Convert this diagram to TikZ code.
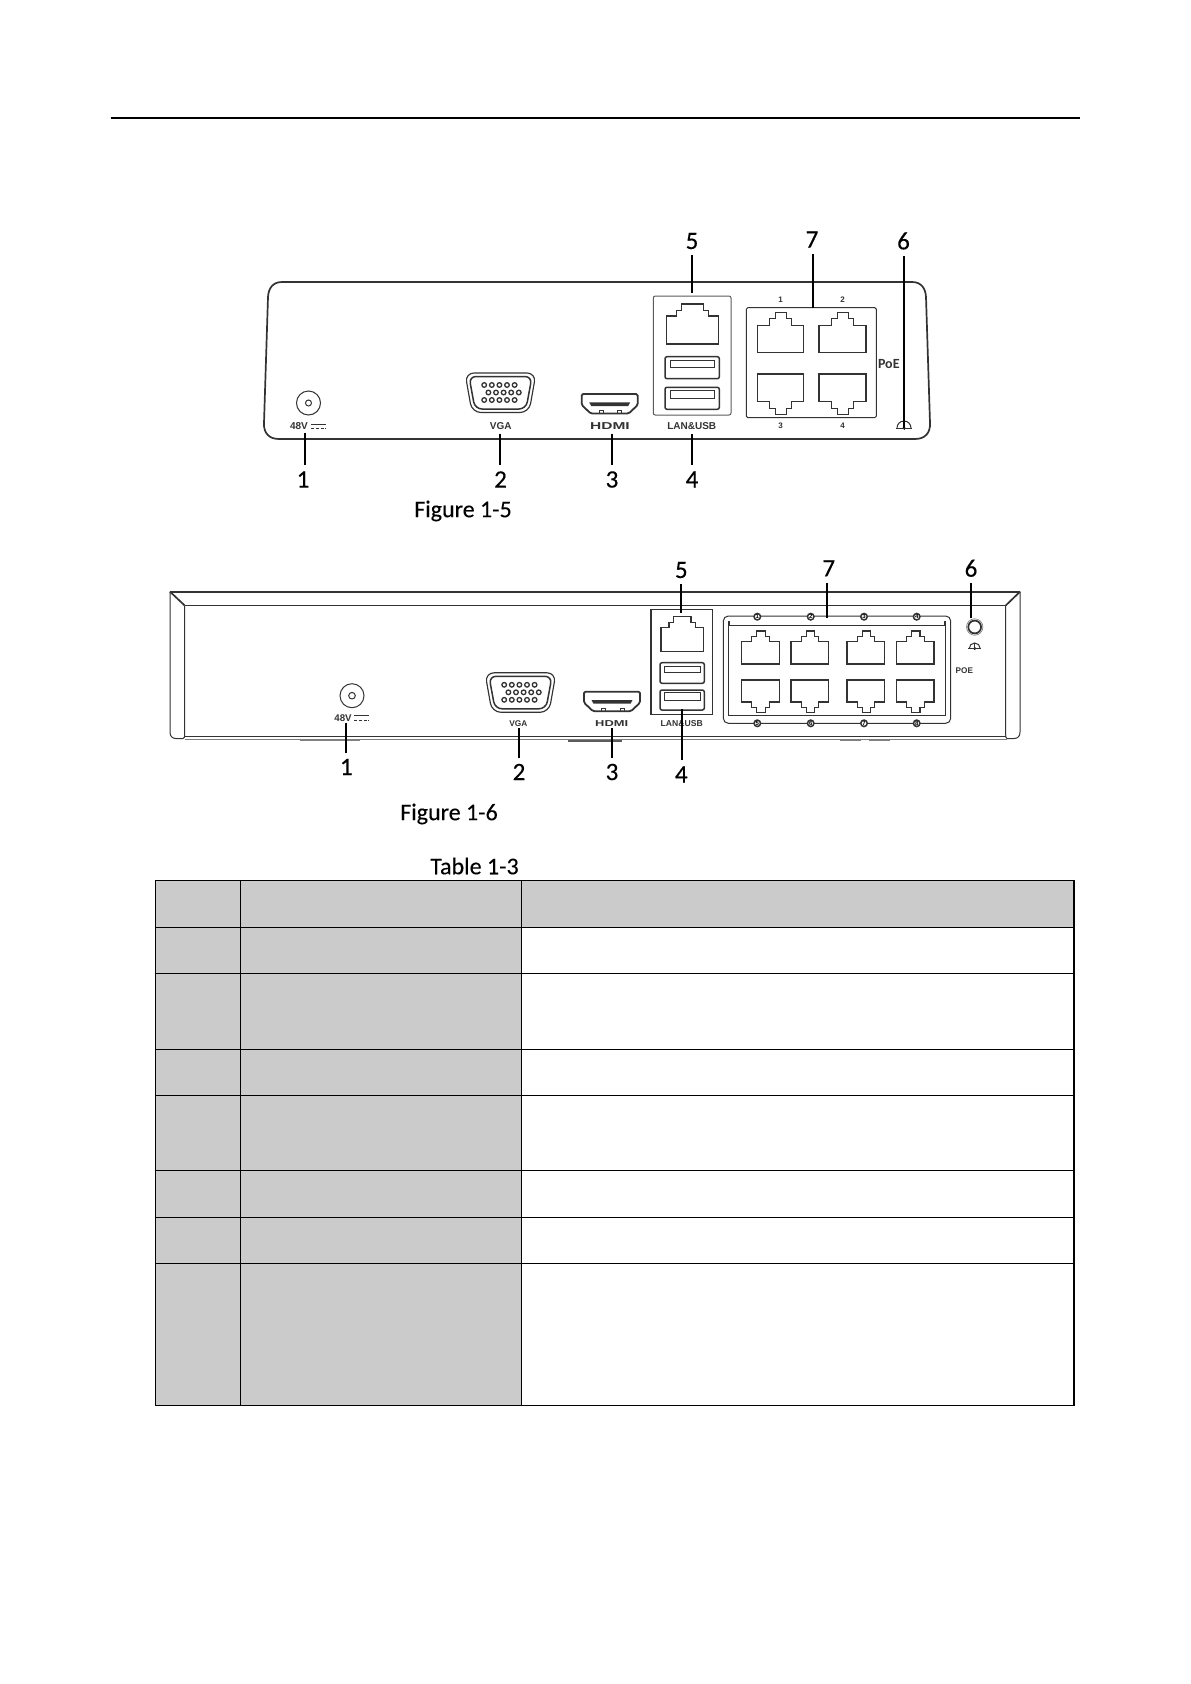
\documentclass[tikz,border=0pt]{standalone}
\usepackage{fontspec}
\setmainfont{Carlito}
\newfontfamily\labfont{Liberation Sans}
\newfontfamily\numfont{Carlito}[FakeBold=0.35]
\newfontfamily\capfont{Carlito}[FakeBold=0.15]
\definecolor{ink}{HTML}{333333}
\definecolor{cellgray}{HTML}{CBCBCB}
\tikzset{
  numlabel/.style={font=\numfont\fontsize{25}{26}\selectfont, inner xsep=2pt, inner ysep=6pt, text=black},
  captiontext/.style={font=\capfont\fontsize{24}{26}\selectfont, inner sep=0pt, text=black},
  tinylab/.style={font=\labfont\bfseries\fontsize{#1}{#1}\selectfont, inner sep=0pt, text=ink},
  leader/.style={draw=black, line width=1.7pt},
  body/.style={draw=ink, line width=1.7pt},
  portline/.style={draw=ink, line width=1.15pt, line join=miter},
  thinline/.style={draw=ink, line width=1pt},
  grid/.style={draw=black, line width=1.3pt},
}
% RJ45 outline: origin at the tab end; #4 signed height
\newcommand{\rjport}[4]{\draw[portline, shift={(#1,#2)}, x=#3pt, y=#4pt]
  (0,.32)--(.27,.32)--(.27,.157)--(.4,.157)--(.4,0)--(.63,0)--(.63,.157)--(.74,.157)--(.74,.32)--(1,.32)--(1,1)--(0,1)--cycle;}
\newcommand{\rjlan}[4]{\draw[portline, line width=1.3pt, shift={(#1,#2)}, x=#3pt, y=#4pt]
  (0,.3)--(.19,.3)--(.19,.17)--(.29,.17)--(.29,0)--(.71,0)--(.71,.17)--(.81,.17)--(.81,.3)--(1,.3)--(1,1)--(0,1)--cycle;}
\newcommand{\usbport}[8]{\draw[portline, line width=1.5pt, rounded corners=2pt] (#1,#2) rectangle (#3,#4);
  \draw[thinline] (#5,#6) rectangle (#7,#8);}
\newcommand{\vgaport}[2]{\begin{scope}[shift={(#1,#2)}]
  \draw[portline, rounded corners=9pt] (0,0)--(71,0)--(64,39.5)--(7,39.5)--cycle;
  \draw[portline, line width=1.5pt, rounded corners=7pt] (4,3.5)--(67,3.5)--(61,36)--(10,36)--cycle;
  \foreach \k in {0,...,4}{
    \draw[thinline, line width=1.3pt] ({19.2+7.6*\k},12) circle (2.3);
    \draw[thinline, line width=1.3pt] ({23.4+7.6*\k},19.5) circle (2.3);
    \draw[thinline, line width=1.3pt] ({19.2+7.6*\k},27) circle (2.3);}
  \end{scope}}
\newcommand{\hdmiport}[2]{\begin{scope}[shift={(#1,#2)}]
  \draw[portline, line width=1.8pt, rounded corners=1.5pt] (0,0)--(56,0)--(56,11)--(47,19.5)--(9,19.5)--(0,11)--cycle;
  \fill[ink] (7.5,8.3)--(48.5,8.3)--(46.5,12)--(9.5,12)--cycle;
  \draw[thinline, line width=.8pt] (17.5,19.5) rectangle (21.5,16.5) (36,19.5) rectangle (40,16.5);
  \end{scope}}
\newcommand{\groundsym}[3]{\draw[thinline] (#1-#3,#2) arc[start angle=180, end angle=360, radius=#3];
  \draw[thinline] (#1-#3-1,#2)--(#1+#3+1,#2);
  \draw[thinline] (#1,#2-#3)--(#1,#2+1.5);
  \fill[ink] (#1,#2) circle (1.6);}
\newcommand{\dcsym}[4]{\draw[thinline, line width=.8pt] (#1,#3)--(#2,#3);
  \draw[thinline, line width=.8pt, dash pattern=on 3.4pt off 1.4pt] (#1,#4)--(#2,#4);}
\begin{document}
\begin{tikzpicture}[x=1pt,y=-1pt]
\useasboundingbox (0,0) rectangle (1191,1684);
\fill[white] (0,0) rectangle (1191,1684);

% header rule
\draw[black, line width=2pt] (110.6,118) -- (1080,118);

%% ---------- Figure 1-5 ----------
\draw[body] (282,282) -- (912,282) .. controls (921,282) and (925.5,288) .. (926,297)
  -- (930,423) .. controls (930.5,433) and (925,439) .. (915,439)
  -- (279,439) .. controls (269,439) and (263.5,433) .. (264,423)
  -- (268,297) .. controls (268.5,288) and (273,282) .. (282,282) -- cycle;

% power
\coordinate (jackA) at (308.5,403);
\draw[thinline] (jackA) circle (12);
\draw[thinline] (jackA) circle (3);
\node[tinylab=10] (v48a) at (299,426.5) {48V};
\dcsym{311}{326}{424.5}{428.5}

% VGA, HDMI
\vgaport{465}{373}
\node[tinylab=10] (vgaA) at (500.7,426.5) {VGA};
\hdmiport{581.7}{394}
\node[tinylab=10] (hdmiA) at (610,426.5) {\scalebox{1.55}[1]{HDMI}};

% LAN & USB block
\draw[thinline, draw=ink!80, rounded corners=2pt] (653.3,296) rectangle (731,415);
\rjlan{666.7}{304}{52}{-40}
\usbport{665}{356.7}{719.3}{378.7}{670.7}{360}{714}{367.3}
\usbport{665}{387.3}{719.3}{409.3}{670.7}{390.7}{714}{398.3}
\node[tinylab=10] (lanA) at (691.7,426) {LAN\&USB};

% PoE block
\draw[thinline, rounded corners=1.5pt] (746.3,307.7) rectangle (876.3,417.7);
\rjport{757.3}{312.3}{46.4}{-40.4}
\rjport{819}{312.3}{47}{-40.4}
\rjport{757.3}{414.7}{46.4}{40.7}
\rjport{819}{414.7}{47}{40.7}
\node[tinylab=8] (pa1) at (780.7,300) {1};
\node[tinylab=8] (pa2) at (842.7,300) {2};
\node[tinylab=8] (pa3) at (780.7,426) {3};
\node[tinylab=8] (pa4) at (842.7,426) {4};
\node[font=\fontsize{14}{14}\selectfont\bfseries, inner sep=0pt, text=ink] (poeA) at (888.8,364) {PoE};
\groundsym{904}{428}{7}

% leaders and numbers
\node[numlabel] (a1) at (303,479.5) {1};
\node[numlabel] (a2) at (500.5,479.5) {2};
\node[numlabel] (a3) at (612,479.5) {3};
\node[numlabel] (a4) at (692,479.5) {4};
\node[numlabel] (a5) at (692,241) {5};
\node[numlabel] (a7) at (812,239.5) {7};
\node[numlabel] (a6) at (903.5,241) {6};
\coordinate (ta1) at (305,432.5);
\coordinate (ta2) at (500,433.5);
\coordinate (ta3) at (612,433.5);
\coordinate (ta4) at (692,434);
\coordinate (ta5) at (692.3,293);
\coordinate (ta7) at (812.7,307.7);
\coordinate (ta6) at (904,428);
\draw[leader] (ta1) -- (ta1 |- a1.north);
\draw[leader] (ta2) -- (ta2 |- a2.north);
\draw[leader] (ta3) -- (ta3 |- a3.north);
\draw[leader] (ta4) -- (ta4 |- a4.north);
\draw[leader] (ta5) -- (ta5 |- a5.south);
\draw[leader] (ta7) -- (ta7 |- a7.south);
\draw[leader] (ta6) -- (ta6 |- a6.south);

\node[captiontext] (figA) at (463,511) {Figure 1-5};

%% ---------- Figure 1-6 ----------
\draw[body] (1005.7,605.5) -- (184.7,605.5);
\draw[body] (170,591.7) -- (1020,591.7);
\draw[body] (170,591.7) -- (184.7,605.5);
\draw[body] (1020,591.7) -- (1005.7,605.5);
\draw[thinline] (170,591.7) -- (170,732) .. controls (170,736) and (172,738.5) .. (176,738.5) -- (183,738.5) .. controls (184.5,738) and (184.7,737) .. (184.7,735) -- (184.7,605.5);
\draw[thinline] (1020,591.7) -- (1020,732) .. controls (1020,736) and (1018,738.5) .. (1014,738.5) -- (1007,738.5) .. controls (1006,738) and (1005.7,737) .. (1005.7,735) -- (1005.7,605.5);
\draw[thinline] (184.7,736) -- (1005.7,736);
\draw[thinline, draw=gray] (184.7,739) -- (1007,739);
\draw[draw=gray, line width=1pt] (300,740) -- (360,740);
\draw[draw=ink!80, line width=1.1pt] (568,741) -- (622,741);
\draw[draw=gray, line width=1pt] (840,740) -- (860.7,740) (869,740) -- (890,740);

% power
\coordinate (jackB) at (352,695.7);
\draw[thinline] (jackB) circle (12);
\draw[thinline] (jackB) circle (3.3);
\node[tinylab=9.7] (v48b) at (343,718) {48V};
\dcsym{354}{369.3}{715.7}{720}

% VGA, HDMI
\vgaport{485}{672.8}
\node[tinylab=8.3] (vgaB) at (518.3,723.7) {VGA};
\hdmiport{584}{691.7}
\node[tinylab=8.6] (hdmiB) at (611.7,723.7) {\scalebox{1.5}[1]{HDMI}};

% LAN & USB block
\draw[thinline, line width=1.2pt] (651,609.3) rectangle (712.7,714.3);
\rjlan{661}{616.7}{42.3}{-35}
\usbport{660}{662.7}{704.3}{683.3}{664}{666}{700}{672.7}
\usbport{660}{690}{704.3}{710}{664}{692.7}{700}{700}
\node[tinylab=8.6] (lanB) at (681.7,723.7) {LAN\&USB};

% PoE frame
\draw[thinline, rounded corners=5pt] (723.3,616) rectangle (950.7,723.3);
\draw[thinline] (729.5,621) -- (729.5,625.5) -- (944.5,625.5) -- (944.5,621);
\draw[thinline] (728.3,621) -- (728.3,715.7) -- (945.7,715.7) -- (945.7,621);
\foreach \px in {741.7,791,847,896.3}{
  \rjport{\px}{631}{37.7}{-33}
  \rjport{\px}{712.3}{37.7}{32.3}
}
\foreach \nm/\cx/\cy/\tx in {c1/757.3/616.7/1,c2/810.7/616.7/2,c3/864/616.7/3,c4/916.7/616.7/4,
                             c5/757.3/723.3/5,c6/810.7/723.3/6,c7/864/723.3/7,c8/916.7/723.3/8}{
  \node[draw=ink, line width=1.5pt, fill=white, circle, minimum size=6.5pt, inner sep=0pt,
        font=\labfont\bfseries\fontsize{6}{6}\selectfont, text=black] (\nm) at (\cx,\cy) {\tx};
}
\node[tinylab=8.2] (poeB) at (964.3,670.7) {POE};
\coordinate (hole) at (974.7,627);
\draw[ink, line width=1.7pt] (hole) circle (6.4);
\draw[thinline, line width=.7pt, draw=gray] (hole) circle (8.2);
\groundsym{974.7}{648.5}{5.5}

% leaders and numbers
\node[numlabel] (b1) at (346.3,767) {1};
\node[numlabel] (b2) at (519,772) {2};
\node[numlabel] (b3) at (612,772) {3};
\node[numlabel] (b4) at (681.3,774.5) {4};
\node[numlabel] (b5) at (681.3,570) {5};
\node[numlabel] (b7) at (828.7,568.3) {7};
\node[numlabel] (b6) at (971,568.3) {6};
\coordinate (tb1) at (346.3,722.7);
\coordinate (tb2) at (519,728.3);
\coordinate (tb3) at (612.3,728.3);
\coordinate (tb4) at (681.7,709.3);
\coordinate (tb5) at (680.7,612.7);
\coordinate (tb7) at (826.7,618);
\coordinate (tb6) at (971,618);
\draw[leader] (tb1) -- (tb1 |- b1.north);
\draw[leader] (tb2) -- (tb2 |- b2.north);
\draw[leader] (tb3) -- (tb3 |- b3.north);
\draw[leader] (tb4) -- (tb4 |- b4.north);
\draw[leader] (tb5) -- (tb5 |- b5.south);
\draw[leader] (tb7) -- (tb7 |- b7.south);
\draw[leader] (tb6) -- (tb6 |- b6.south);

\node[captiontext] (figB) at (449,814) {Figure 1-6};

%% ---------- Table 1-3 ----------
\node[captiontext] (tabT) at (474.5,866) {Table 1-3};
\fill[cellgray] (155.7,880.3) rectangle (1074,927.3);
\fill[cellgray] (155.7,927.3) rectangle (521.5,1405.3);
\draw[grid] (155.7,880.3) rectangle (1074,1405.3);
\foreach \rowy in {927.3,973.3,1049.3,1095.3,1170.3,1217.3,1263.3}{
  \draw[grid] (155.7,\rowy) -- (1074,\rowy);
}
\draw[grid] (240.3,880.3) -- (240.3,1405.3);
\draw[grid] (521.5,880.3) -- (521.5,1405.3);
\end{tikzpicture}
\end{document}
